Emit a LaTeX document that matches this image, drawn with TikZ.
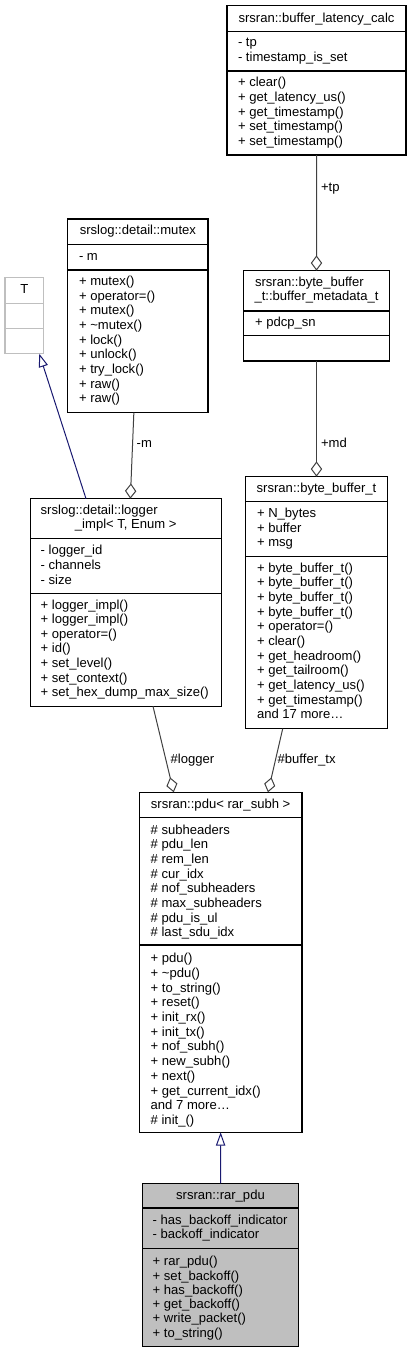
\documentclass[tikz,border=0pt]{standalone}
\usepackage{fontspec}
\setmainfont{Liberation Sans}
\usetikzlibrary{arrows.meta}
\definecolor{edgegray}{HTML}{404040}
\definecolor{inhblue}{HTML}{191970}
\definecolor{boxgray}{HTML}{BFBFBF}
\tikzset{
 cls/.style={draw=black, line width=0.8pt, inner sep=0pt, outer sep=0pt, anchor=north west},
 sepline/.style={draw=black, line width=0.8pt},
 txt/.style={inner sep=0pt, outer sep=0pt, font=\fontsize{9.8}{11}\selectfont},
 agg/.style={draw=edgegray, line width=0.75pt, -{Diamond[open,length=11.5pt,width=8.5pt,line width=0.75pt]}},
 inh/.style={draw=inhblue, line width=0.75pt, -{Triangle[open,length=10pt,width=7pt,line width=0.75pt]}},
 lbl/.style={txt, anchor=base west},
}
\newcommand\clsbox[6]{\node[cls, minimum width={(#4-#2)*0.75pt}, minimum height={(#5-#3)*0.75pt}, #6] (#1) at (#2,#3) {};}
\newcommand\hsep[4][]{\draw[sepline,#1] (#2,#4) -- (#3,#4);}
\newcommand\lines[5]{\foreach[count=\i from 0] \t in {#5} {\node[txt, anchor=base west] (#1-\i) at (#2, {#3+4+\i*#4}) {\t};}}
\begin{document}
\begin{tikzpicture}[x=0.75pt,y=-0.75pt]
\useasboundingbox (0,0) rectangle (411,1353);

% buffer_latency_calc
\clsbox{blc}{227}{5.7}{406}{155}{}
\hsep{227}{406}{31.3}
\hsep{227}{406}{71}
\node[txt, anchor=base] (blc-t) at (316.5,22) {srsran::buffer\_latency\_calc};
\lines{blc-a}{238}{42.7}{15}{- tp, - timestamp\_is\_set}
\lines{blc-m}{238}{82.3}{14.85}{+ clear(), + get\_latency\_us(), + get\_timestamp(), + set\_timestamp(), + set\_timestamp()}

% buffer_metadata_t
\clsbox{meta}{243.7}{270.7}{389.3}{361}{}
\hsep{243.7}{389.3}{311}
\hsep{243.7}{389.3}{335.7}
\node[txt, anchor=base west] (meta-t1) at (255,286.7) {srsran::byte\_buffer};
\node[txt, anchor=base] (meta-t2) at (316.5,300.3) {\_t::buffer\_metadata\_t};
\lines{meta-a}{255}{322.7}{14.6}{+ pdcp\_sn}

% mutex
\clsbox{mutex}{67.7}{219}{208}{412.7}{}
\hsep{67.7}{208}{244.7}
\hsep{67.7}{208}{270}
\node[txt, anchor=base] (mutex-t) at (137.85,234.7) {srslog::detail::mutex};
\lines{mutex-a}{79}{256.7}{14.6}{- m}
\lines{mutex-m}{79}{281.7}{14.63}{+ mutex(), + operator=(), + mutex(), + \textasciitilde mutex(), + lock(), + unlock(), + try\_lock(), + raw(), + raw()}

% T
\clsbox{T}{5}{277.3}{43.7}{353.7}{draw=boxgray}
\hsep[draw=boxgray]{5}{43.7}{303.3}
\hsep[draw=boxgray]{5}{43.7}{328.3}
\node[txt, anchor=base] (T-t) at (24.35,293.3) {T};

% logger
\clsbox{logger}{30.3}{498.7}{221.3}{706.3}{}
\hsep{30.3}{221.3}{538.3}
\hsep{30.3}{221.3}{593.3}
\node[txt, anchor=base west] (logger-t1) at (40.7,514.7) {srslog::detail::logger};
\node[txt, anchor=base] (logger-t2) at (125.8,528.7) {\_impl< T, Enum >};
\lines{logger-a}{40.7}{550.3}{14.85}{- logger\_id, - channels, - size}
\lines{logger-m}{40.7}{605}{14.6}{+ logger\_impl(), + logger\_impl(), + operator=(), + id(), + set\_level(), + set\_context(), + set\_hex\_dump\_max\_size()}

% byte_buffer_t
\clsbox{bbt}{245.7}{476.7}{387.3}{728.7}{}
\hsep{245.7}{387.3}{501.7}
\hsep{245.7}{387.3}{556.7}
\node[txt, anchor=base] (bbt-t) at (316.5,492.7) {srsran::byte\_buffer\_t};
\lines{bbt-a}{257}{513.7}{14.5}{+ N\_bytes, + buffer, + msg}
\lines{bbt-m}{257}{568.3}{14.64}{+ byte\_buffer\_t(), + byte\_buffer\_t(), + byte\_buffer\_t(), + byte\_buffer\_t(), + operator=(), + clear(), + get\_headroom(), + get\_tailroom(), + get\_latency\_us(), + get\_timestamp(), and 17 more…}

% pdu
\clsbox{pdu}{139.3}{792.3}{302}{1132.3}{}
\hsep{139.3}{302}{817.3}
\hsep{139.3}{302}{945}
\node[txt, anchor=base] (pdu-t) at (220.65,808) {srsran::pdu< rar\_subh >};
\lines{pdu-a}{150.7}{830}{14.67}{\# subheaders, \# pdu\_len, \# rem\_len, \# cur\_idx, \# nof\_subheaders, \# max\_subheaders, \# pdu\_is\_ul, \# last\_sdu\_idx}
\lines{pdu-m}{150.7}{958.7}{14.7}{+ pdu(), + \textasciitilde pdu(), + to\_string(), + reset(), + init\_rx(), + init\_tx(), + nof\_subh(), + new\_subh(), + next(), + get\_current\_idx(), and 7 more…, \# init\_()}

% rar_pdu
\clsbox{rar}{142.3}{1183.3}{298.7}{1346.7}{fill=boxgray}
\hsep{142.3}{298.7}{1208}
\hsep{142.3}{298.7}{1248.3}
\node[txt, anchor=base] (rar-t) at (220.5,1199.7) {srsran::rar\_pdu};
\lines{rar-a}{152.7}{1220.7}{13.8}{- has\_backoff\_indicator, - backoff\_indicator}
\lines{rar-m}{152.7}{1261.7}{14.3}{+ rar\_pdu(), + set\_backoff(), + has\_backoff(), + get\_backoff(), + write\_packet(), + to\_string()}

% connectors
\draw[agg] (blc.south) -- (meta.north);
\node[lbl] (lbl-tp) at (321,191) {+tp};
\draw[agg] (meta.south) -- (bbt.north);
\node[lbl] (lbl-md) at (321,447.7) {+md};
\draw[agg] ([xshift=-3pt]mutex.south) -- ([xshift=3.4pt]logger.north);
\node[lbl] (lbl-m) at (136.7,447.7) {-m};
\draw[inh] ([xshift=-29.85pt]logger.north) -- ([xshift=11.2pt]T.south);
\draw[agg] ([xshift=20.4pt]logger.south) -- ([xshift=-35.2pt]pdu.north);
\node[lbl] (lbl-logger) at (170.7,763.7) {\#logger};
\draw[agg] ([xshift=-25.35pt]bbt.south) -- ([xshift=35.5pt]pdu.north);
\node[lbl] (lbl-btx) at (277.7,763.7) {\#buffer\_tx};
\draw[inh] (rar.north) -- (pdu.south);
\end{tikzpicture}
\end{document}
